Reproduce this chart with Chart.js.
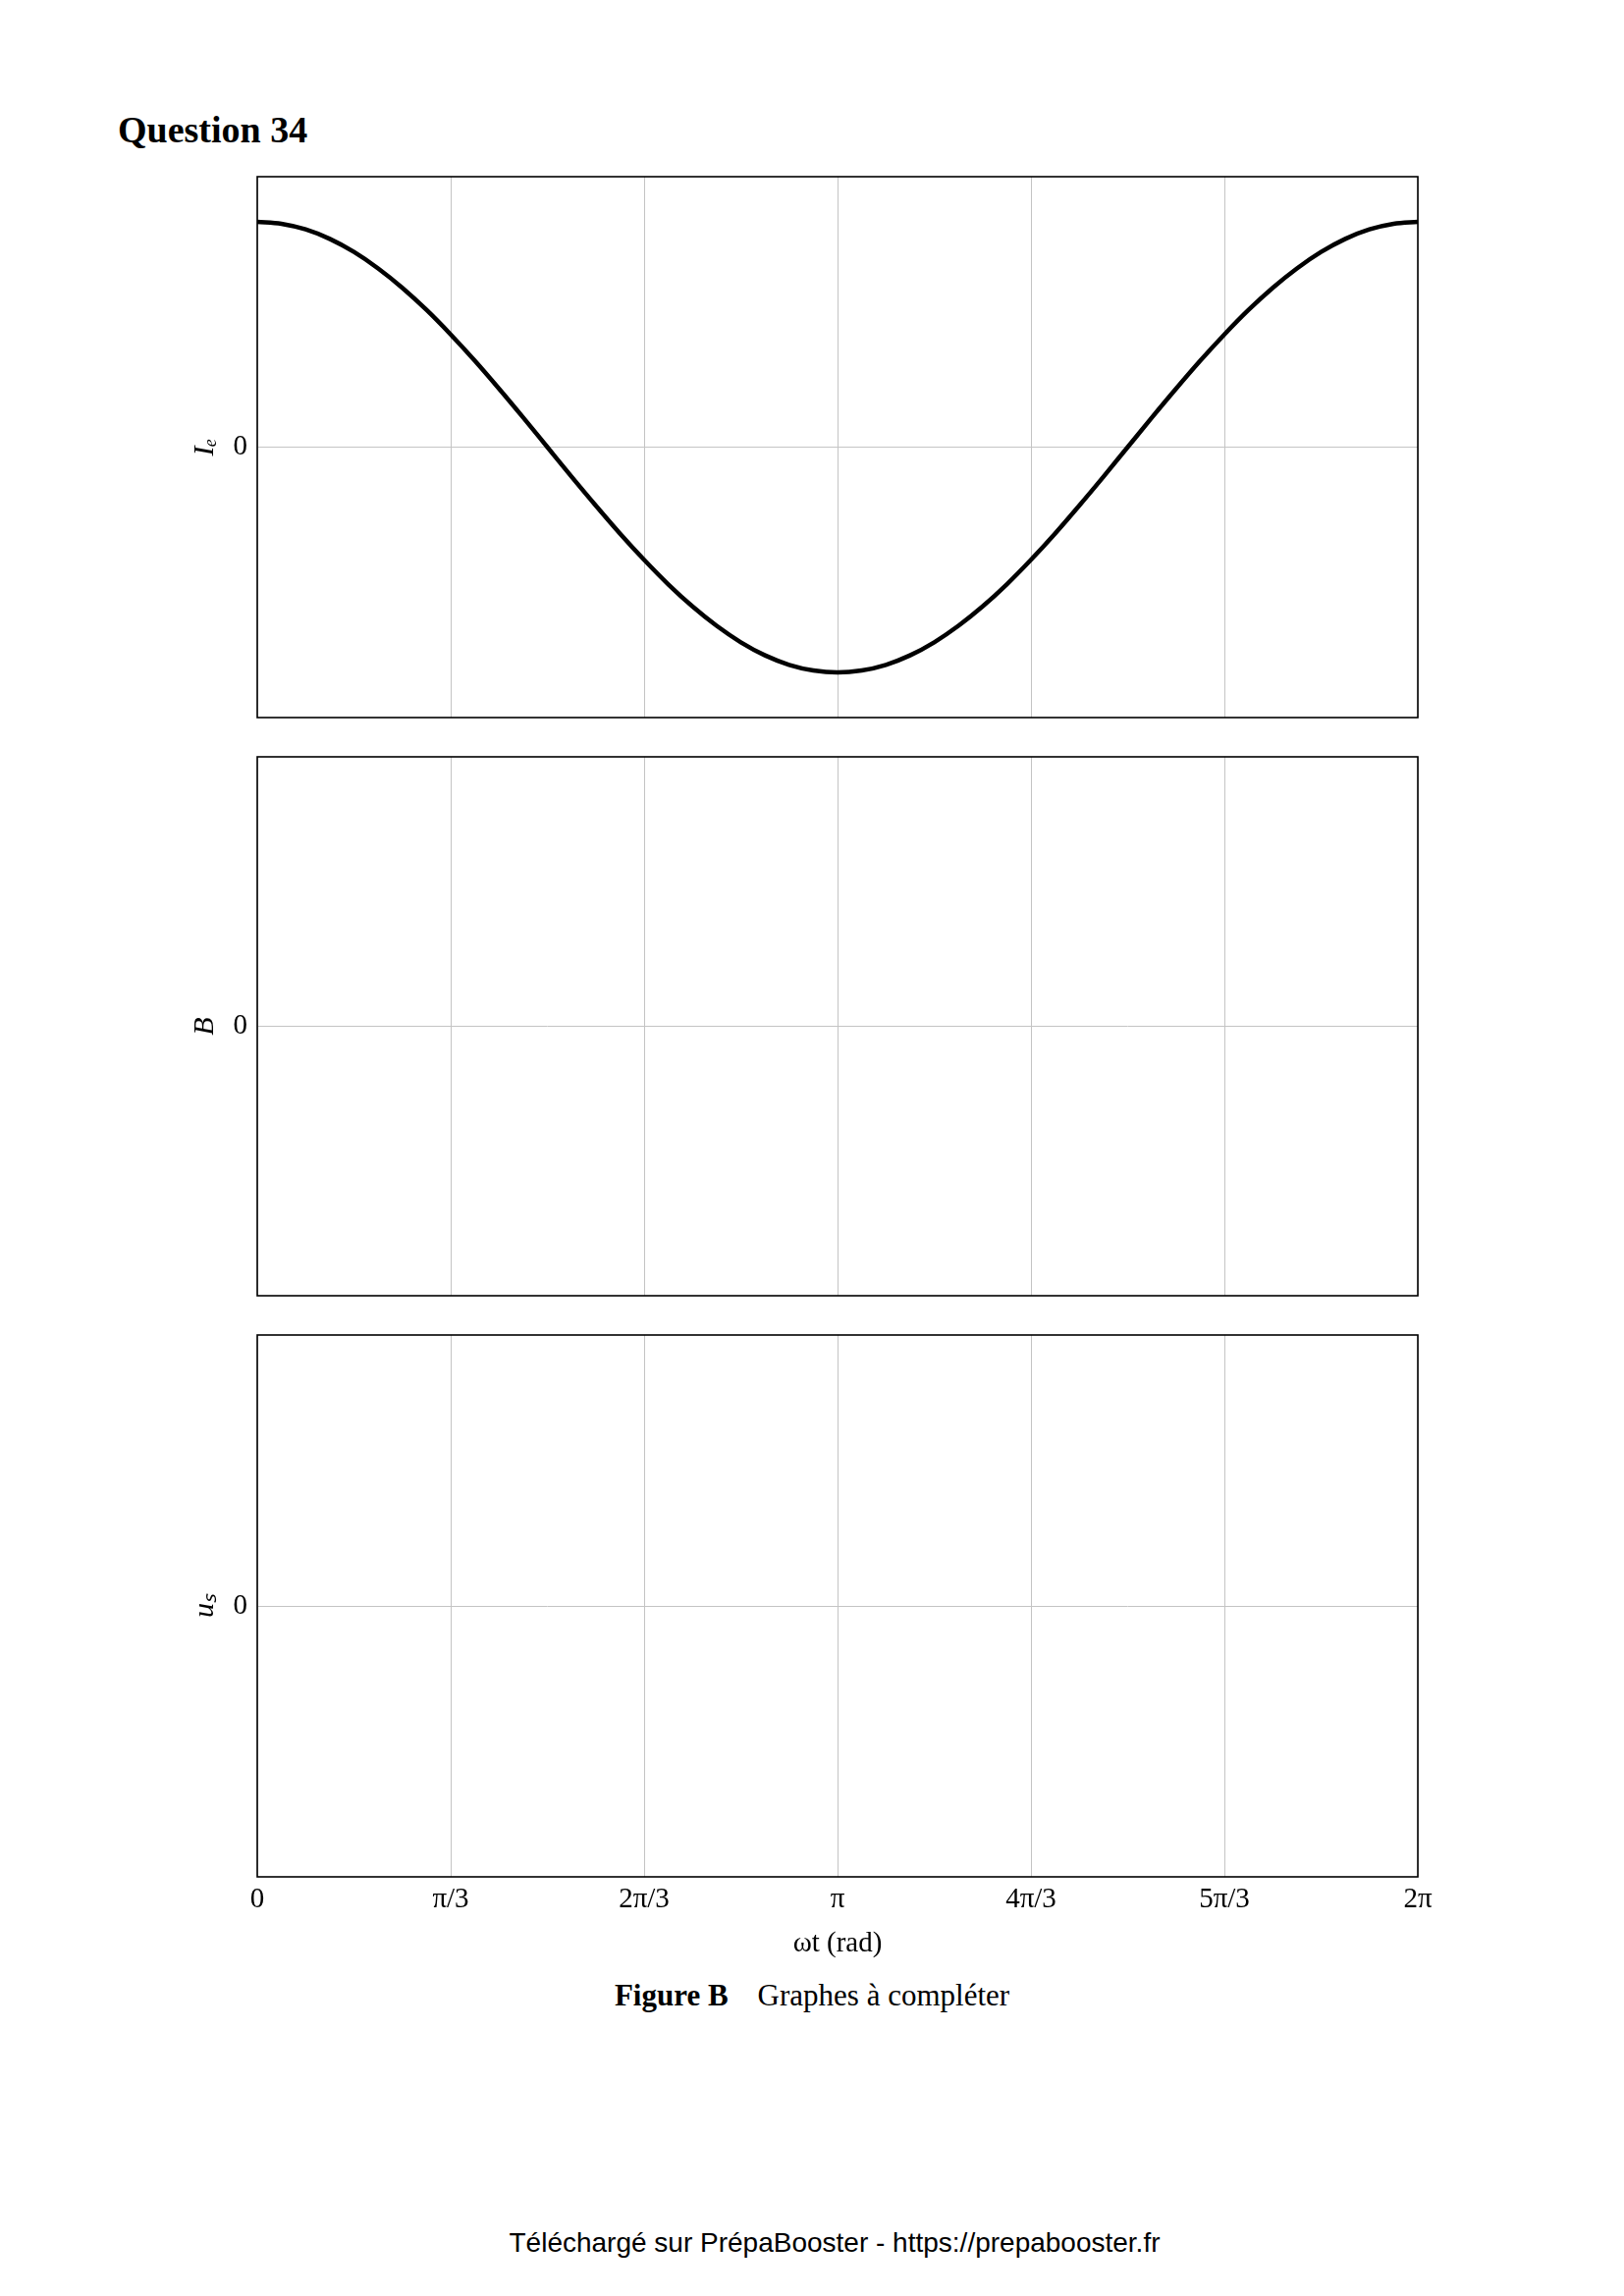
<!DOCTYPE html>
<html>
<head>
<meta charset="utf-8">
<script src="https://cdn.jsdelivr.net/npm/chart.js@4.4.1/dist/chart.umd.min.js"></script>
<style>
  body { margin: 0; background: #fff; width: 1654px; height: 2339px; position: relative; overflow: hidden; }
  canvas { position: absolute; left: 0; }
  .txt { position: absolute; white-space: nowrap; color: #000; }
</style>
</head>
<body>
<div class="txt" style="left:120px; top:113px; font: bold 38px 'Liberation Serif'; line-height:1;">Question 34</div>

<canvas id="chartIe" width="1654" height="559" style="top:176px"></canvas>
<canvas id="chartB" width="1654" height="557" style="top:767px"></canvas>
<canvas id="chartUs" width="1654" height="646" style="top:1356px"></canvas>

<div class="txt" style="left:0; width:1654px; text-align:center; top:2015px; font: 31px 'Liberation Serif'; line-height:36px;"><span style="font-weight:bold">Figure B</span><span style="display:inline-block; width:30px"></span>Graphes à compléter</div>
<div class="txt" style="left:0; width:1700px; text-align:center; top:2268px; font: 28px 'Liberation Sans'; line-height:34px;">Téléchargé sur PrépaBooster - https://prepabooster.fr</div>

<script>
// abscissa in steps of pi/24 (0 .. 48 = 2pi)
const wtSteps = [0, 1, 2, 3, 4, 5, 6, 7, 8, 9, 10, 11, 12, 13, 14, 15, 16, 17, 18, 19, 20, 21, 22, 23, 24,
  25, 26, 27, 28, 29, 30, 31, 32, 33, 34, 35, 36, 37, 38, 39, 40, 41, 42, 43, 44, 45, 46, 47, 48];
// I_e (normalised, peak = 1)
const ieValues = [1, 0.991, 0.966, 0.924, 0.866, 0.793, 0.707, 0.609, 0.5, 0.383, 0.259, 0.131, 0,
  -0.131, -0.259, -0.383, -0.5, -0.609, -0.707, -0.793, -0.866, -0.924, -0.966, -0.991, -1,
  -0.991, -0.966, -0.924, -0.866, -0.793, -0.707, -0.609, -0.5, -0.383, -0.259, -0.131, 0,
  0.131, 0.259, 0.383, 0.5, 0.609, 0.707, 0.793, 0.866, 0.924, 0.966, 0.991, 1];
const xTickLabels = ["0", "π/3", "2π/3", "π", "4π/3", "5π/3", "2π"];
const yTicks = [0];

const gridColor = "#c4c4c4";
const serif = "'Liberation Serif'";

const frame = {
  id: "frame",
  afterDraw(chart) {
    const a = chart.chartArea;
    const ctx = chart.ctx;
    ctx.save();
    ctx.strokeStyle = "#000";
    ctx.lineWidth = 1.6;
    ctx.strokeRect(a.left, a.top, a.right - a.left, a.bottom - a.top);
    ctx.restore();
  }
};

function makeChart(id, yLabel, datasets, showX) {
  return new Chart(id, {
    type: "line",
    data: { datasets: datasets },
    options: {
      responsive: false,
      animation: false,
      layout: { padding: { left: 191, right: 210, top: 4, bottom: 4 } },
      plugins: { legend: { display: false }, tooltip: { enabled: false } },
      scales: {
        x: {
          type: "linear",
          min: 0,
          max: 48,
          border: { display: false },
          grid: { color: gridColor, lineWidth: 1, drawTicks: false },
          ticks: {
            display: showX,
            stepSize: 8,
            autoSkip: false,
            maxRotation: 0,
            padding: 6,
            color: "#000",
            font: { family: serif, size: 29 },
            callback: (v) => xTickLabels[v / 8]
          },
          title: {
            display: showX,
            text: "ωt (rad)",
            color: "#000",
            padding: { top: 0, bottom: 0 },
            font: { family: serif, size: 29 }
          },
          afterFit: (s) => { s.height = showX ? 86 : 0; }
        },
        y: {
          min: -1.2,
          max: 1.2,
          border: { display: false },
          grid: { color: gridColor, lineWidth: 1, drawTicks: false },
          afterBuildTicks: (s) => { s.ticks = yTicks.map(v => ({ value: v })); },
          ticks: {
            padding: 10,
            color: "#000",
            font: { family: serif, size: 29 }
          },
          title: {
            display: true,
            text: yLabel,
            color: "#000",
            padding: { top: 0, bottom: 0 },
            font: { family: serif, size: 30, style: "italic" }
          },
          afterFit: (s) => { s.width = 71; s.paddingTop = 0; s.paddingBottom = 0; }
        }
      }
    },
    plugins: [frame]
  });
}

makeChart("chartIe", "Iₑ", [{
  data: wtSteps.map((x, i) => ({ x: x, y: ieValues[i] })),
  borderColor: "#000",
  borderWidth: 4.5,
  pointRadius: 0,
  cubicInterpolationMode: "monotone",
  fill: false
}], false);

makeChart("chartB", "B", [], false);
makeChart("chartUs", "uₛ", [], true);
</script>
</body>
</html>
